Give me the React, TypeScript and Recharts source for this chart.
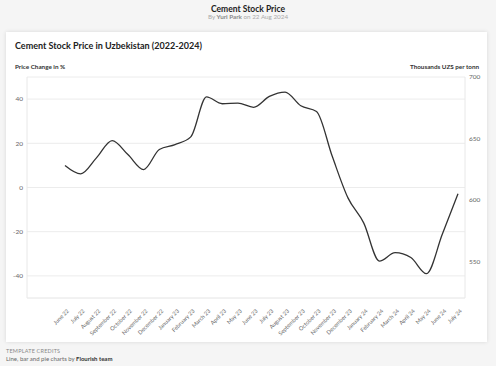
import React from 'react';
import { LineChart, Line, XAxis, YAxis, CartesianGrid } from 'recharts';

const months = [
  'June 22', 'July 22', 'August 22', 'September 22', 'October 22', 'November 22', 'December 22',
  'January 23', 'February 23', 'March 23', 'April 23', 'May 23', 'June 23', 'July 23', 'August 23',
  'September 23', 'October 23', 'November 23', 'December 23', 'January 24', 'February 24', 'March 24',
  'April 24', 'May 24', 'June 24', 'July 24',
];
const priceChange = [
  10, 6.2, 13.4, 21.2, 14.9, 8.1, 17.2, 19.4, 22.9, 41, 37.9, 38.2, 36.3, 41.2, 43.2,
  37, 34.4, 14.1, -4.7, -16, -33.3, -29.5, -31.7, -39, -21.2, -2.8,
];
const leftTicks = [-40, -20, 0, 20, 40];
const rightTicks = [550, 600, 650, 700];
const leftDomain = [-50, 50];
const rightDomain = [520.5, 700];

const data = months.map((m, i) => ({ month: m, change: priceChange[i] }));

const FONT = 'Lato, "Open Sans", sans-serif';

function XTick(props: any) {
  const { x, y, payload } = props;
  return (
    <g transform={`translate(${x + 3},${y + 4})`}>
      <text x={0} y={0} dy={2} textAnchor="end" transform="rotate(-45)" fontSize={5.6} fill="#666" fontFamily={FONT}>
        {payload.value}
      </text>
    </g>
  );
}

export default function App() {
  return (
    <div style={{ position: 'absolute', left: 0, top: 0, width: 496, height: 366, background: '#f5f5f5', fontFamily: FONT, overflow: 'hidden' }}>
      <div style={{ position: 'absolute', left: 0, width: 496, top: 4, textAlign: 'center', fontSize: 8.5, fontWeight: 700, color: '#222' }}>
        Cement Stock Price
      </div>
      <div style={{ position: 'absolute', left: 0, width: 496, top: 13, textAlign: 'center', fontSize: 6.3, color: '#aaa' }}>
        By <span style={{ fontWeight: 700, color: '#888' }}>Yuri Park</span> on 22 Aug 2024
      </div>
      <div style={{ position: 'absolute', left: 6, top: 32, width: 481, height: 310, background: '#fff', boxShadow: '0 0 4px rgba(0,0,0,0.12)' }} />
      <div style={{ position: 'absolute', left: 15, top: 40, fontSize: 9, fontWeight: 700, color: '#222', whiteSpace: 'nowrap' }}>
        Cement Stock Price in Uzbekistan (2022-2024)
      </div>
      <div style={{ position: 'absolute', left: 15, top: 63, fontSize: 6.3, fontWeight: 700, color: '#333', whiteSpace: 'nowrap' }}>
        Price Change in %
      </div>
      <div style={{ position: 'absolute', right: 17, top: 63, fontSize: 6.3, fontWeight: 700, color: '#333', whiteSpace: 'nowrap' }}>
        Thousands UZS per tonn
      </div>
      <div style={{ position: 'absolute', left: 0, top: 0 }}>
        <LineChart width={496} height={366} data={data} margin={{ top: 77, right: 0, bottom: 8, left: 0 }}>
          <CartesianGrid yAxisId="left" vertical={false} stroke="#ececec" strokeWidth={1} />
          <XAxis
            dataKey="month"
            interval={0}
            height={60}
            padding={{ left: 38, right: 7 }}
            tick={<XTick />}
            tickLine={false}
            axisLine={{ stroke: '#eeeeee' }}
          />
          <YAxis
            yAxisId="left"
            width={27}
            domain={leftDomain}
            ticks={leftTicks}
            type="number"
            tickSize={0}
            tickMargin={4}
            tickLine={false}
            axisLine={{ stroke: '#e8e8e8' }}
            tick={{ fontSize: 6.5, fill: '#666', fontFamily: FONT }}
          />
          <YAxis
            yAxisId="right"
            orientation="right"
            width={31}
            domain={rightDomain}
            ticks={rightTicks}
            type="number"
            allowDataOverflow
            tickSize={0}
            tickMargin={4}
            tickLine={false}
            axisLine={{ stroke: '#e8e8e8' }}
            tick={{ fontSize: 6.5, fill: '#666', fontFamily: FONT, textAnchor: 'start' }}
          />
          <Line
            yAxisId="left"
            type="monotone"
            dataKey="change"
            stroke="#333"
            strokeWidth={1.3}
            dot={false}
            isAnimationActive={false}
          />
        </LineChart>
      </div>
      <div style={{ position: 'absolute', left: 6, top: 348, fontSize: 5.5, color: '#888', letterSpacing: 0.2 }}>
        TEMPLATE CREDITS
      </div>
      <div style={{ position: 'absolute', left: 6, top: 355, fontSize: 6, color: '#666' }}>
        Line, bar and pie charts by <span style={{ fontWeight: 700, color: '#333' }}>Flourish team</span>
      </div>
    </div>
  );
}
